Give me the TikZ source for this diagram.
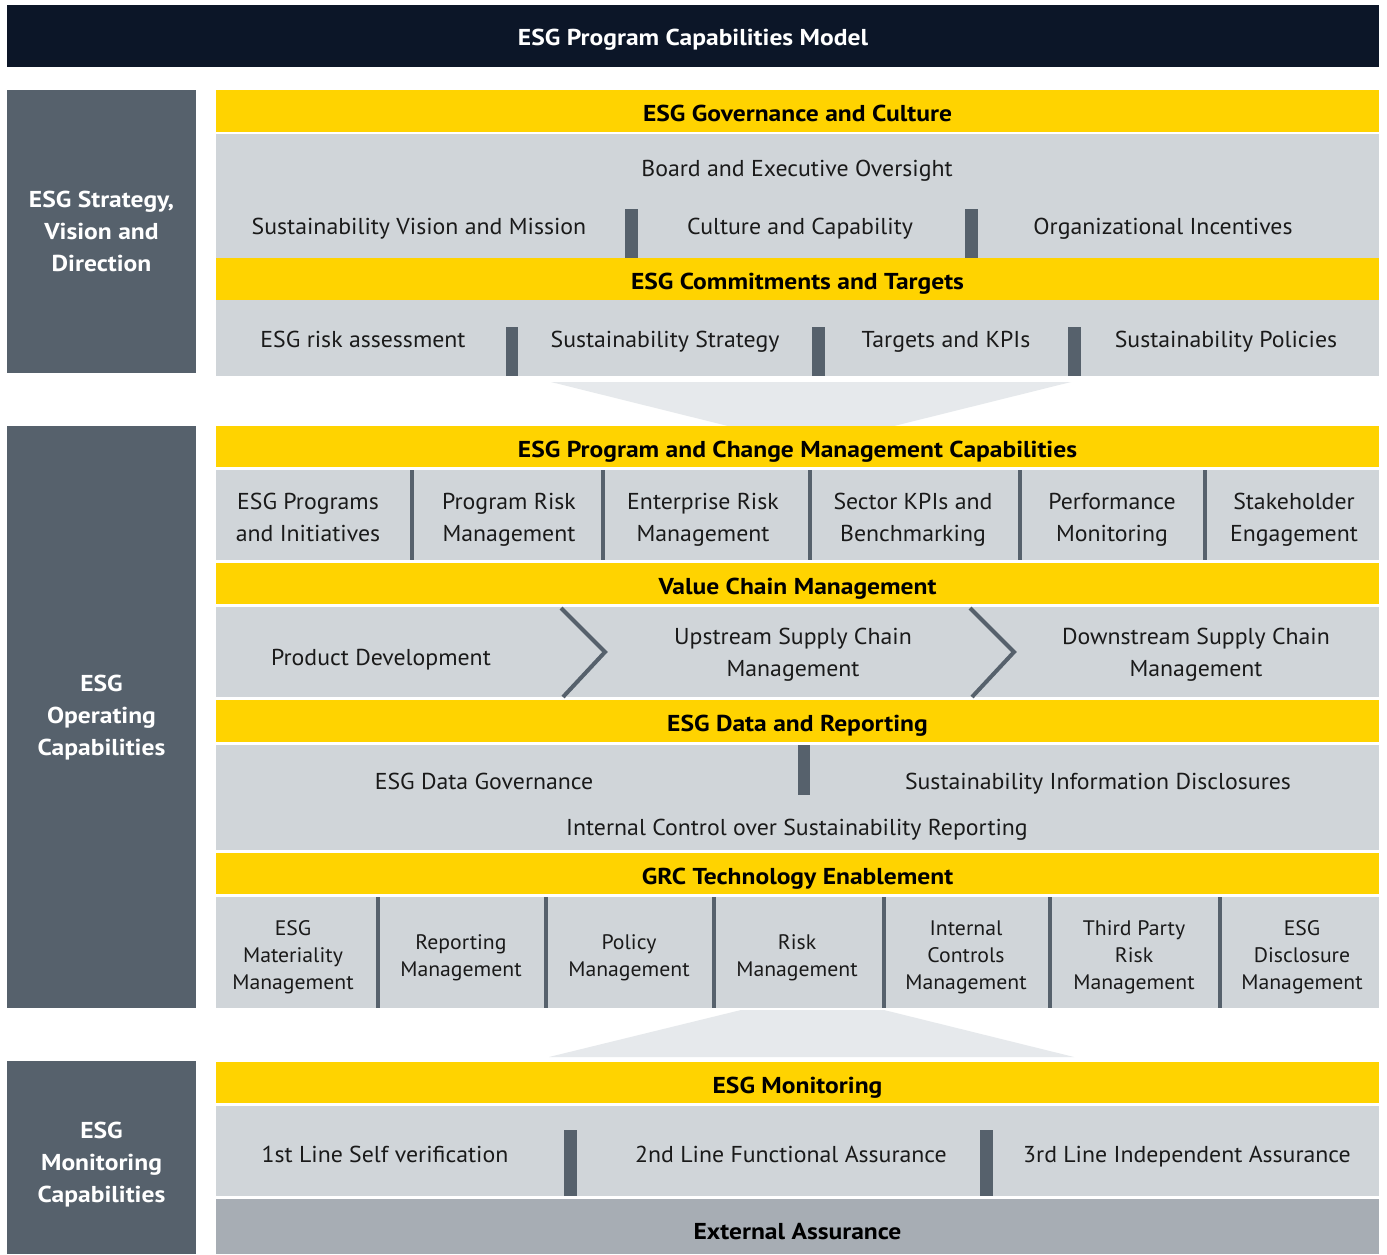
\documentclass[tikz,border=0pt]{standalone}
\usepackage{fontspec}
\setmainfont{PT Sans}
\newfontfamily\bodyfont{PT Sans}[FakeStretch=1.035]
\newfontfamily\headfont{PT Sans Bold}[FakeStretch=1.11]
\definecolor{navy}{HTML}{0C1628}
\definecolor{slate}{HTML}{56616C}
\definecolor{eyyel}{HTML}{FFD300}
\definecolor{cellg}{HTML}{D0D5D9}
\definecolor{funnel}{HTML}{E6E9EC}
\definecolor{extg}{HTML}{A7ADB4}
\definecolor{txt}{HTML}{1A1A1A}
\newcommand{\dvbar}[4]{\fill[slate] (#1,#2) rectangle (#3,#4);}
\begin{document}
\begin{tikzpicture}[x=1pt,y=-1pt,
  body/.style={inner sep=0pt,align=center,text=txt,text depth=5pt,yshift=-3pt,font=\bodyfont\fontsize{23}{32}\selectfont},
  one/.style={text height=16pt},
  small/.style={inner sep=0pt,align=center,text=txt,text depth=5pt,yshift=-3pt,font=\bodyfont\fontsize{21}{27}\selectfont},
  head/.style={inner sep=0pt,align=center,text=black,text height=16pt,text depth=5pt,yshift=-3pt,font=\headfont\fontsize{23}{32}\selectfont},
  side/.style={inner sep=0pt,align=center,text=white,text depth=5pt,yshift=-3pt,font=\headfont\fontsize{23}{32}\selectfont},
  band/.style={fill=eyyel},
  cell/.style={fill=cellg}
]
\useasboundingbox (0,0) rectangle (1387,1254);
\fill[white] (0,0) rectangle (1387,1254);
% title
\fill[navy] (7,5) rectangle (1379,67);
\node[head,text=white] (title) at (693,37) {ESG Program Capabilities Model};
% side boxes
\fill[slate] (7,90) rectangle (196,373);
\fill[slate] (7,426) rectangle (196,1008);
\fill[slate] (7,1061) rectangle (196,1254);
\node[side] (s1) at (101.5,231) {ESG Strategy,\\Vision and\\Direction};
\node[side] (s2) at (101.5,715) {ESG\\Operating\\Capabilities};
\node[side] (s3) at (101.5,1162) {ESG\\Monitoring\\Capabilities};
% funnels
\fill[funnel] (551,382) -- (1071,382) -- (890,427) -- (732,427) -- cycle;
\fill[funnel] (741,1010) -- (884,1010) -- (1074,1057) -- (549,1057) -- cycle;
% section 1
\fill[band] (216,90) rectangle (1379,132);
\node[head] (gov) at (797.5,113) {ESG Governance and Culture};
\fill[cell] (216,134) rectangle (1379,258);
\node[body,one] (board) at (797,168) {Board and Executive Oversight};
\node[body,one] (vis) at (419,226) {Sustainability Vision and Mission};
\node[body,one] (cult) at (800,226) {Culture and Capability};
\node[body,one] (inc) at (1163,226) {Organizational Incentives};
\dvbar{625}{209}{638}{258}
\dvbar{965}{209}{978}{258}
\fill[band] (216,258) rectangle (1379,300);
\node[head] (comm) at (797.5,281) {ESG Commitments and Targets};
\fill[cell] (216,300) rectangle (1379,376);
\node[body,one] (risk) at (363,339) {ESG risk assessment};
\node[body,one] (strat) at (665,339) {Sustainability Strategy};
\node[body,one] (kpi) at (946,339) {Targets and KPIs};
\node[body,one] (pol) at (1226,339) {Sustainability Policies};
\dvbar{506}{327}{518}{376}
\dvbar{812}{327}{825}{376}
\dvbar{1068}{327}{1081}{376}
% section 2
\fill[band] (216,426) rectangle (1379,467);
\node[head] (prog) at (797.5,449) {ESG Program and Change Management Capabilities};
\fill[cell] (216,470) rectangle (1379,560);
\foreach \a in {410,601,808,1018,1203} {\fill[slate] (\a,470) rectangle (\a+3.5,560);}
\node[body] (p1) at (308,517) {ESG Programs\\and Initiatives};
\node[body] (p2) at (509,517) {Program Risk\\Management};
\node[body] (p3) at (703,517) {Enterprise Risk\\Management};
\node[body] (p4) at (913,517) {Sector KPIs and\\Benchmarking};
\node[body] (p5) at (1112,517) {Performance\\Monitoring};
\node[body] (p6) at (1294,517) {Stakeholder\\Engagement};
\fill[band] (216,563) rectangle (1379,604);
\node[head] (vcm) at (797.5,586) {Value Chain Management};
\fill[cell] (216,607) rectangle (1379,697);
\draw[slate,line width=4pt] (561,608) -- (605,652) -- (563,697);
\draw[slate,line width=4pt] (970,608) -- (1014,652) -- (972,697);
\node[body,one] (v1) at (381,657) {Product Development};
\node[body] (v2) at (793,652) {Upstream Supply Chain\\Management};
\node[body] (v3) at (1196,652) {Downstream Supply Chain\\Management};
\fill[band] (216,700) rectangle (1379,742);
\node[head] (dat) at (797.5,723) {ESG Data and Reporting};
\fill[cell] (216,745) rectangle (1379,850);
\dvbar{798}{745}{810}{795}
\node[body,one] (d1) at (484,781) {ESG Data Governance};
\node[body,one] (d2) at (1098,781) {Sustainability Information Disclosures};
\node[body,one] (d3) at (797,827) {Internal Control over Sustainability Reporting};
\fill[band] (216,853) rectangle (1379,894);
\node[head] (grc) at (797.5,876) {GRC Technology Enablement};
\fill[cell] (216,897) rectangle (1379,1008);
\foreach \a in {376,544,712,882,1048,1218} {\fill[slate] (\a,897) rectangle (\a+3.5,1008);}
\node[small] (g1) at (293,955) {ESG\\Materiality\\Management};
\node[small] (g2) at (461,955) {Reporting\\Management};
\node[small] (g3) at (629,955) {Policy\\Management};
\node[small] (g4) at (797,955) {Risk\\Management};
\node[small] (g5) at (966,955) {Internal\\Controls\\Management};
\node[small] (g6) at (1134,955) {Third Party\\Risk\\Management};
\node[small] (g7) at (1302,955) {ESG\\Disclosure\\Management};
% section 3
\fill[band] (216,1062) rectangle (1379,1103);
\node[head] (mon) at (797.5,1085) {ESG Monitoring};
\fill[cell] (216,1106) rectangle (1379,1196);
\dvbar{564}{1130}{577}{1196}
\dvbar{980}{1130}{993}{1196}
\node[body,one] (m1) at (385,1154) {1st Line Self verification};
\node[body,one] (m2) at (791,1154) {2nd Line Functional Assurance};
\node[body,one] (m3) at (1187,1154) {3rd Line Independent Assurance};
\fill[extg] (216,1199) rectangle (1379,1254);
\node[head] (ext) at (797.5,1231) {External Assurance};
\end{tikzpicture}
\end{document}
